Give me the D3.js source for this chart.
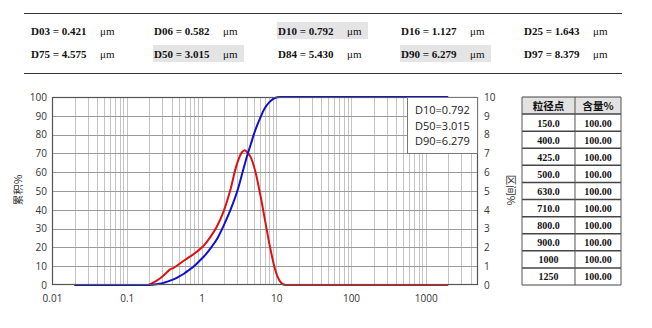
<!DOCTYPE html>
<html><head><meta charset="utf-8">
<script src="https://cdn.jsdelivr.net/npm/d3@7"></script>
<style>body{margin:0;background:#fff}svg{display:block}</style>
</head><body>
<svg id="c" width="652" height="328"></svg>
<script>
// ---- data ----
const statRow1 = [["D03 = 0.421","μm"],["D06 = 0.582","μm"],["D10 = 0.792","μm"],["D16 = 1.127","μm"],["D25 = 1.643","μm"]];
const statRow2 = [["D75 = 4.575","μm"],["D50 = 3.015","μm"],["D84 = 5.430","μm"],["D90 = 6.279","μm"],["D97 = 8.379","μm"]];
const highlightCells = [[0,2],[1,1],[1,3]];
const legendLines = ["D10=0.792","D50=3.015","D90=6.279"];
const sizePoints = ["150.0","400.0","425.0","500.0","630.0","710.0","800.0","900.0","1000","1250"];
const sizeContent = ["100.00","100.00","100.00","100.00","100.00","100.00","100.00","100.00","100.00","100.00"];
const tableHeader = ["粒径点","含量%"];
const xTicks = [0.01,0.1,1,10,100,1000];
const xTickLabels = ["0.01","0.1","1","10","100","1000"];
const leftTicks = [0,10,20,30,40,50,60,70,80,90,100];
const rightTicks = [0,1,2,3,4,5,6,7,8,9,10];
// cumulative (%), by particle size (μm)
const cumSize = [0.02,0.2,0.25,0.3,0.35,0.421,0.5,0.582,0.68,0.792,0.95,1.127,1.35,1.643,2.0,2.5,3.015,3.6,4.1,4.575,5.0,5.43,6.279,6.8,7.4,8.0,8.379,9.0,9.7,10.4,11.2,2000];
const cumVal  = [0,0,0.4,1.0,1.8,3,4.5,6,8,10,13,16,20,25,32,41,50,61,69,75,80,84,90,93.0,95.4,97.0,97.8,98.9,99.5,99.85,100,100];
// interval (%), by particle size (μm)
const difSize = [0.02,0.19,0.22,0.28,0.33,0.38,0.42,0.46,0.52,0.6,0.71,0.82,0.95,1.1,1.31,1.6,1.97,2.41,2.96,3.46,3.8,4.1,4.5,5.25,6.12,7.13,8.32,9.7,11.3,13.2,2000];
const difVal  = [0,0,0.1,0.36,0.6,0.83,0.9,1.0,1.16,1.33,1.52,1.7,1.9,2.15,2.55,3.1,3.9,5.0,6.4,7.05,7.17,7.05,6.84,6.04,4.8,3.37,1.95,0.8,0.18,0,0];

const svg = d3.select("#c");
const serif = "'Liberation Serif','DejaVu Serif',serif";
const sans = "'Open Sans','DejaVu Sans',sans-serif";

// ---- top stats table ----
svg.append("line").attr("x1",24).attr("x2",622).attr("y1",13.5).attr("y2",13.5).attr("stroke","#333").attr("stroke-width",1.2);
svg.append("line").attr("x1",24).attr("x2",622).attr("y1",73.5).attr("y2",73.5).attr("stroke","#333").attr("stroke-width",1.2);
const colX = [31,154,278,401,524];
const unitDX = 69;
const rowY = [32,55];
highlightCells.forEach(([r,c])=>{
  svg.append("rect").attr("x",colX[c]-1).attr("y",rowY[r]-10).attr("width",91).attr("height",17).attr("fill","#e4e4e4");
});
[statRow1,statRow2].forEach((row,r)=>{
  row.forEach((d,c)=>{
    svg.append("text").attr("x",colX[c]).attr("y",rowY[r]+3).text(d[0])
      .attr("font-family",serif).attr("font-weight","bold").attr("font-size",11).attr("fill","#111");
    svg.append("text").attr("x",colX[c]+unitDX).attr("y",rowY[r]+3).text(d[1])
      .attr("font-family",serif).attr("font-size",11).attr("fill","#111");
  });
});

// ---- chart ----
const L=52,R=478,T=97,B=285;
const x = d3.scaleLog().domain([0.01,5000]).range([L,R]);
const yL = d3.scaleLinear().domain([0,100]).range([B,T]);
const yR = d3.scaleLinear().domain([0,10]).range([B,T]);

const g = svg.append("g");
// vertical grid
const minor = [];
for (let e=-2;e<=3;e++) for (let m=1;m<=9;m++){ const v=m*Math.pow(10,e); if(v>0.01 && v<5000) minor.push(v); }
g.selectAll("line.vg").data(minor).join("line").attr("class","vg")
  .attr("x1",d=>Math.round(x(d))+0.5).attr("x2",d=>Math.round(x(d))+0.5).attr("y1",T).attr("y2",B)
  .attr("stroke","#c4c4c4").attr("stroke-width",1);
// horizontal grid
g.selectAll("line.hg").data(leftTicks.slice(1,-1)).join("line").attr("class","hg")
  .attr("x1",L).attr("x2",R).attr("y1",d=>Math.round(yL(d))+0.5).attr("y2",d=>Math.round(yL(d))+0.5)
  .attr("stroke","#9a9a9a").attr("stroke-width",1);

// curves
const lineCum = d3.line().x(d=>x(d[0])).y(d=>yL(d[1])).curve(d3.curveMonotoneX);
const lineDif = d3.line().x(d=>x(d[0])).y(d=>yR(d[1])).curve(d3.curveMonotoneX);
g.append("path").datum(difSize.map((s,i)=>[s,difVal[i]])).attr("d",lineDif)
  .attr("fill","none").attr("stroke","#e01010").attr("stroke-width",2);
g.append("path").datum(cumSize.map((s,i)=>[s,cumVal[i]])).attr("d",lineCum)
  .attr("fill","none").attr("stroke","#1010d0").attr("stroke-width",2);

// frame
g.append("rect").attr("x",L+0.5).attr("y",T+0.5).attr("width",R-L-1).attr("height",B-T-1)
  .attr("fill","none").attr("stroke","#555").attr("stroke-width",1.2);

// axes
const axB = d3.axisBottom(x).tickValues(xTicks).tickFormat((d,i)=>xTickLabels[i]).tickSize(0).tickPadding(10);
const axL = d3.axisLeft(yL).tickValues(leftTicks).tickSize(0).tickPadding(5);
const axR = d3.axisRight(yR).tickValues(rightTicks).tickSize(0).tickPadding(6);
[[axB,`translate(0,${B})`],[axL,`translate(${L},0)`],[axR,`translate(${R},0)`]].forEach(([a,t])=>{
  const ag = svg.append("g").attr("transform",t).call(a);
  ag.select(".domain").remove();
  ag.selectAll("text").attr("font-family",sans).attr("font-size",10).attr("fill","#333");
});

// axis titles
svg.append("text").attr("transform","translate(22,190) rotate(-90)").attr("text-anchor","middle")
  .attr("font-family","'Noto Sans CJK SC',sans-serif").attr("font-size",10.5).attr("fill","#333").text("累积%");
svg.append("text").attr("transform","translate(507,190) rotate(90)").attr("text-anchor","middle")
  .attr("font-family","'Noto Sans CJK SC',sans-serif").attr("font-size",10.5).attr("fill","#333").text("区间%");

// legend box
svg.append("rect").attr("x",407.5).attr("y",T+0.5).attr("width",R-408).attr("height",56)
  .attr("fill","#fff").attr("stroke","#777").attr("stroke-width",1);
legendLines.forEach((t,i)=>{
  svg.append("text").attr("x",415).attr("y",114+i*15.5).text(t)
    .attr("font-family",sans).attr("font-size",11).attr("fill","#222");
});

// ---- right table ----
const tL=522,tM=575,tR=621,tT=97,rowH=(285-97)/11;
svg.append("rect").attr("x",tL).attr("y",tT).attr("width",tR-tL).attr("height",rowH).attr("fill","#e2e2e2");
for(let i=0;i<=11;i++){
  svg.append("line").attr("x1",tL).attr("x2",tR).attr("y1",tT+i*rowH).attr("y2",tT+i*rowH)
    .attr("stroke","#444").attr("stroke-width",i===0||i===11?1:1.5);
}
[tL,tM,tR].forEach(xx=>svg.append("line").attr("x1",xx).attr("x2",xx).attr("y1",tT).attr("y2",tT+11*rowH).attr("stroke","#555").attr("stroke-width",1));
tableHeader.forEach((h,i)=>{
  svg.append("text").attr("x",i? (tM+tR)/2 : (tL+tM)/2).attr("y",tT+rowH/2+4).attr("text-anchor","middle")
    .attr("font-family","'Noto Sans CJK SC',serif").attr("font-weight","bold").attr("font-size",10.5).attr("fill","#111").text(h);
});
sizePoints.forEach((s,i)=>{
  const yy = tT+(i+1)*rowH+rowH/2+4;
  svg.append("text").attr("x",(tL+tM)/2).attr("y",yy).attr("text-anchor","middle")
    .attr("font-family",serif).attr("font-weight","bold").attr("font-size",10).attr("fill","#111").text(s);
  svg.append("text").attr("x",(tM+tR)/2).attr("y",yy).attr("text-anchor","middle")
    .attr("font-family",serif).attr("font-weight","bold").attr("font-size",10).attr("fill","#111").text(sizeContent[i]);
});
</script>
</body></html>
